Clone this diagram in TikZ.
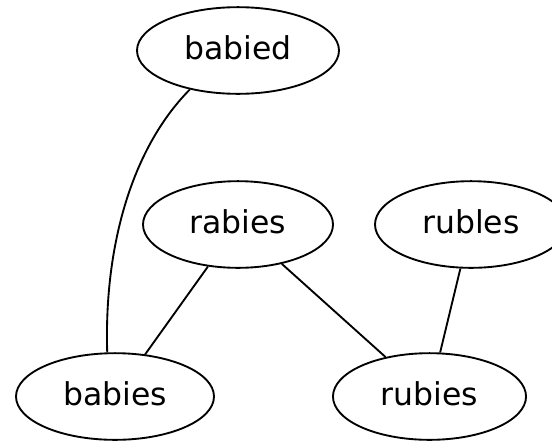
\documentclass[tikz,border=0pt]{standalone}
\usepackage{fontspec}
\setmainfont{DejaVu Sans}
\usetikzlibrary{shapes.geometric}
\begin{document}
\begin{tikzpicture}[x=0.75pt,y=-0.75pt,
  word/.style={draw, ellipse, line width=1.4pt, inner sep=0pt,
    minimum height=65pt, text height=14.2pt, text depth=0pt,
    font=\fontsize{23.6}{28}\selectfont},
  link/.style={line width=1.4pt}]
\clip (0,0) rectangle (552,440);
\node[word, minimum width=151.5pt] (babied) at (238,50.5) {babied};
\node[word, minimum width=142.5pt] (rabies) at (238,224.5) {rabies};
\node[word, minimum width=144pt]   (rubles) at (471,224.5) {rubles};
\node[word, minimum width=148.5pt] (babies) at (115,396.5) {babies};
\node[word, minimum width=144.8pt] (rubies) at (429.5,396.5) {rubies};
\draw[link] (babied.219.6) .. controls (130,150) and (104,250) .. (babies.100.7);
\draw[link] (rabies) -- (babies);
\draw[link] (rabies) -- (rubies);
\draw[link] (rubles) -- (rubies);
\end{tikzpicture}
\end{document}
